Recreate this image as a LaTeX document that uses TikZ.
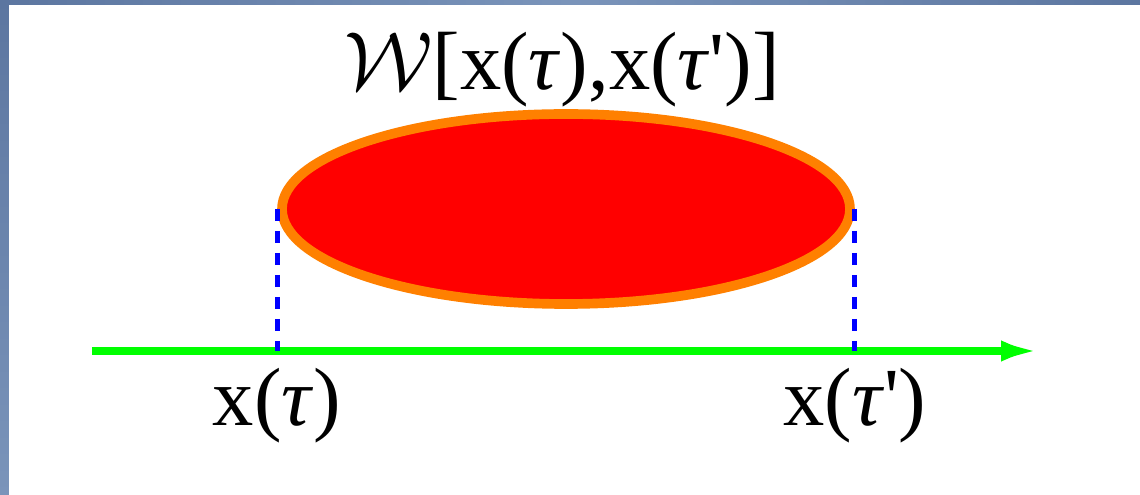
\documentclass[tikz,border=0pt]{standalone}
\usepackage{fix-cm}
\usepackage{fontspec}
\setmainfont{Liberation Serif}
\usepackage{tikz}
\usetikzlibrary{arrows.meta, positioning, shapes.geometric}

\definecolor{frameblue}{RGB}{92,118,160}
\definecolor{framelight}{RGB}{122,148,186}

\newcommand{\tauit}{\textit{τ}}

\begin{document}
\begin{tikzpicture}[
  every node/.style={font=\fontsize{47}{54}\selectfont},
  blob/.style={ellipse, draw=orange, fill=red, line width=5.5pt,
    minimum width=11.36cm, minimum height=3.8cm, inner sep=0pt},
  axis/.style={-{Latex[length=0.78cm, width=0.42cm]}, green, line width=4.6pt},
  proj/.style={blue, line width=2.8pt, dash pattern=on 0.24cm off 0.2cm},
  tick label/.style={inner sep=0pt},
]
\useasboundingbox (0,0) rectangle (22.8,9.9);

% frame of the slide
\shade[left color=frameblue, right color=frameblue, middle color=framelight]
  (0,9.8) rectangle (22.8,9.9);
\shade[top color=frameblue, bottom color=framelight] (0,0) rectangle (0.18,9.9);

% influence functional
\node[blob] (blob) at (11.32,5.72) {};
\node[inner sep=0pt] (wlabel) at (11.24,8.5) {$\mathcal{W}$[x(\tauit),x(\tauit\textquotesingle)]};

% time axis
\coordinate (axstart) at (1.84,2.88);
\coordinate (axend) at (20.8,2.88);
\draw[axis] (axstart) -- (axend);

% projections onto the axis
\coordinate (lo) at (blob.west |- axstart);
\coordinate (hi) at (blob.east |- axstart);
\draw[proj] (blob.west) -- (lo);
\draw[proj] (blob.east) -- (hi);

% end points
\node[tick label, below=0.34cm of lo] (tlo) {x(\tauit)};
\node[tick label, below=0.34cm of hi] (thi) {x(\tauit\textquotesingle)};

\end{tikzpicture}
\end{document}
